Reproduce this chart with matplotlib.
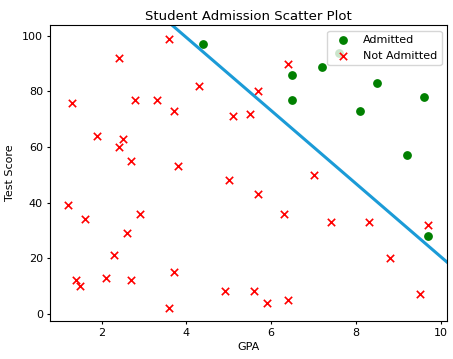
import numpy as np
import matplotlib
matplotlib.use("Agg")
import matplotlib.pyplot as plt

# admitted students (GPA, test score)
adm_gpa = [4.4, 7.6, 7.2, 6.5, 8.5, 6.5, 9.6, 8.1, 9.2, 9.7]
adm_score = [97, 94, 89, 86, 83, 77, 78, 73, 57, 28]

# not admitted students
rej_gpa = [3.6, 2.4, 4.3, 1.3, 2.8, 3.3, 3.7, 5.1, 5.5, 1.9,
           2.5, 2.4, 2.7, 3.8, 6.4, 5.7, 5.0, 1.2, 1.6, 2.9,
           2.6, 2.3, 1.4, 1.5, 2.1, 2.7, 3.7, 4.9, 3.6, 7.0,
           5.7, 6.3, 7.4, 8.3, 9.7, 8.8, 5.6, 5.9, 6.4, 9.5]
rej_score = [99, 92, 82, 76, 77, 77, 73, 71, 72, 64,
             63, 60, 55, 53, 90, 80, 48, 39, 34, 36,
             29, 21, 12, 10, 13, 12, 15, 8, 2, 50,
             43, 36, 33, 33, 32, 20, 8, 4, 5, 7]

# decision boundary: score = intercept + slope * gpa
slope = -13.16
intercept = 152.1

fig = plt.figure(figsize=(4.53, 3.59), dpi=100)
ax = fig.add_axes([0.110, 0.107, 0.877, 0.823])

ax.scatter(adm_gpa, adm_score, c="green", marker="o", s=28, label="Admitted")
ax.scatter(rej_gpa, rej_score, c="red", marker="x", s=28, linewidths=1.2,
           label="Not Admitted")

xlim = (0.78, 10.15)
ylim = (-2.5, 103.9)
xs = np.linspace(xlim[0], xlim[1] + 0.5, 50)
ax.plot(xs, intercept + slope * xs, color="#1b9bd7", lw=2.2)

ax.set_xlim(xlim)
ax.set_ylim(ylim)
ax.set_xticks([2, 4, 6, 8, 10])
ax.set_yticks([0, 20, 40, 60, 80, 100])
ax.tick_params(labelsize=8, length=2.5, pad=2.5)
ax.set_xlabel("GPA", fontsize=8, labelpad=3)
ax.set_ylabel("Test Score", fontsize=8, labelpad=5)
ax.set_title("Student Admission Scatter Plot", fontsize=9.5, pad=4)
ax.legend(loc="upper right", fontsize=8, handletextpad=0.8)

fig.savefig("out.png", dpi=100)
